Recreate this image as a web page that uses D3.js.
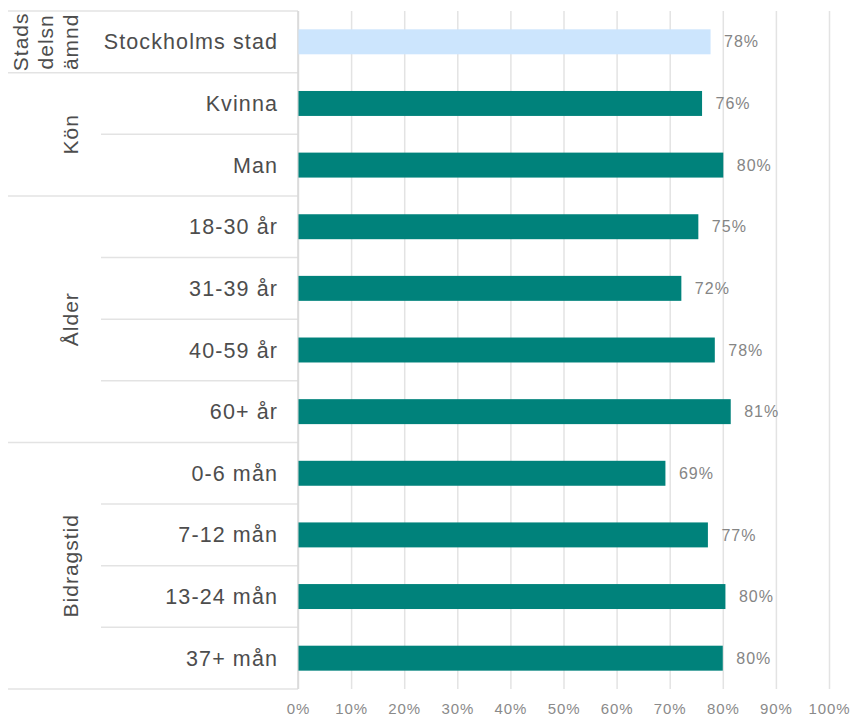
<!DOCTYPE html>
<html>
<head>
<meta charset="utf-8">
<script src="https://cdn.jsdelivr.net/npm/d3@7"></script>
<style>
  html, body { margin: 0; padding: 0; background: #fff; }
  svg { display: block; font-family: "Liberation Sans", Arial, sans-serif; }
</style>
</head>
<body>
<svg id="chart" width="851" height="716"></svg>
<script>
// ---- data ----
const categories = ["Stockholms stad", "Kvinna", "Man", "18-30 år", "31-39 år", "40-59 år", "60+ år",
                    "0-6 mån", "7-12 mån", "13-24 mån", "37+ mån"];
const values = [77.6, 76.0, 80.0, 75.3, 72.1, 78.4, 81.4, 69.1, 77.1, 80.4, 79.9];
const valueLabels = ["78%", "76%", "80%", "75%", "72%", "78%", "81%", "69%", "77%", "80%", "80%"];
const groupNames = ["Stadsdelsnämnd", "Kön", "Ålder", "Bidragstid"];
const groupLines = [["Stads", "delsn", "ämnd"], ["Kön"], ["Ålder"], ["Bidragstid"]];
const groupStart = [0, 1, 3, 7];
const groupSize = [1, 2, 4, 4];
const highlight = [true, false, false, false, false, false, false, false, false, false, false];
const xTicks = [0, 10, 20, 30, 40, 50, 60, 70, 80, 90, 100];
const xTickLabels = ["0%", "10%", "20%", "30%", "40%", "50%", "60%", "70%", "80%", "90%", "100%"];

// ---- layout ----
const svg = d3.select("#chart");
const plotLeft = 298, plotRight = 829, plotTop = 11, plotBottom = 689;
const x = d3.scaleLinear().domain([0, 100]).range([plotLeft, plotRight]);
const yBand = d3.scaleBand().domain(d3.range(categories.length)).range([plotTop, plotBottom]).paddingInner(0).paddingOuter(0);
const barH = yBand.bandwidth() * 0.405;
const gridColor = "#e3e3e3";
const textColor = "#4d4d4d";

// gridlines
svg.append("g").selectAll("line").data(xTicks).join("line")
  .attr("x1", d => x(d) + 0.5).attr("x2", d => x(d) + 0.5)
  .attr("y1", plotTop).attr("y2", plotBottom)
  .attr("stroke", gridColor).attr("stroke-width", 1.5);

// x tick labels via axis
const xAxis = d3.axisBottom(x).tickValues(xTicks).tickSize(0).tickPadding(0)
  .tickFormat((d, i) => xTickLabels[i]);
const gx = svg.append("g").attr("transform", `translate(0,${plotBottom + 14})`).call(xAxis);
gx.select(".domain").remove();
gx.selectAll("text").attr("fill", "#8a8a8a").attr("font-size", 15).attr("letter-spacing", "0.9px")
  .attr("font-family", "'Liberation Sans', Arial, sans-serif");

// row separators (category level) and group separators
const sepLines = [];
sepLines.push({ y: plotTop, x1: 8 });
for (let g = 0; g < groupNames.length; g++) {
  for (let k = 1; k < groupSize[g]; k++) {
    sepLines.push({ y: yBand(groupStart[g] + k), x1: 101 });
  }
  sepLines.push({ y: yBand(groupStart[g]) + yBand.bandwidth() * groupSize[g], x1: 8 });
}
svg.append("g").selectAll("line").data(sepLines).join("line")
  .attr("x1", d => d.x1).attr("x2", plotLeft)
  .attr("y1", d => d.y).attr("y2", d => d.y)
  .attr("stroke", gridColor).attr("stroke-width", 1.5);

// vertical axis line
svg.append("line").attr("x1", plotLeft).attr("x2", plotLeft)
  .attr("y1", plotTop).attr("y2", plotBottom)
  .attr("stroke", "#d9d9d9").attr("stroke-width", 1.5);

// bars
svg.append("g").selectAll("rect").data(values).join("rect")
  .attr("x", x(0) + 0.5)
  .attr("y", (d, i) => yBand(i) + yBand.bandwidth() / 2 - barH / 2)
  .attr("width", d => x(d) - x(0))
  .attr("height", barH)
  .attr("fill", (d, i) => highlight[i] ? "#cce5fd" : "#00827b");

// value labels
svg.append("g").selectAll("text").data(values).join("text")
  .attr("x", d => x(d) + 14)
  .attr("y", (d, i) => yBand(i) + yBand.bandwidth() / 2)
  .attr("dy", "0.35em")
  .attr("fill", "#858585").attr("font-size", 16).attr("letter-spacing", "1px")
  .text((d, i) => valueLabels[i]);

// category labels
svg.append("g").selectAll("text").data(categories).join("text")
  .attr("x", plotLeft - 20)
  .attr("y", (d, i) => yBand(i) + yBand.bandwidth() / 2)
  .attr("dy", "0.35em")
  .attr("text-anchor", "end")
  .attr("fill", textColor).attr("font-size", 21.5).attr("letter-spacing", "1.1px")
  .text(d => d);

// group labels (rotated)
groupLines.forEach((lines, g) => {
  const cy = yBand(groupStart[g]) + yBand.bandwidth() * groupSize[g] / 2;
  const n = lines.length;
  const lineGap = 25;
  lines.forEach((ln, j) => {
    const cx = 71 - (n - 1 - j) * lineGap;
    svg.append("text")
      .attr("transform", `translate(${cx + 7},${cy}) rotate(-90)`)
      .attr("text-anchor", "middle")
      .attr("fill", textColor).attr("font-size", 21).attr("letter-spacing", "1px")
      .text(ln);
  });
});
</script>
</body>
</html>
